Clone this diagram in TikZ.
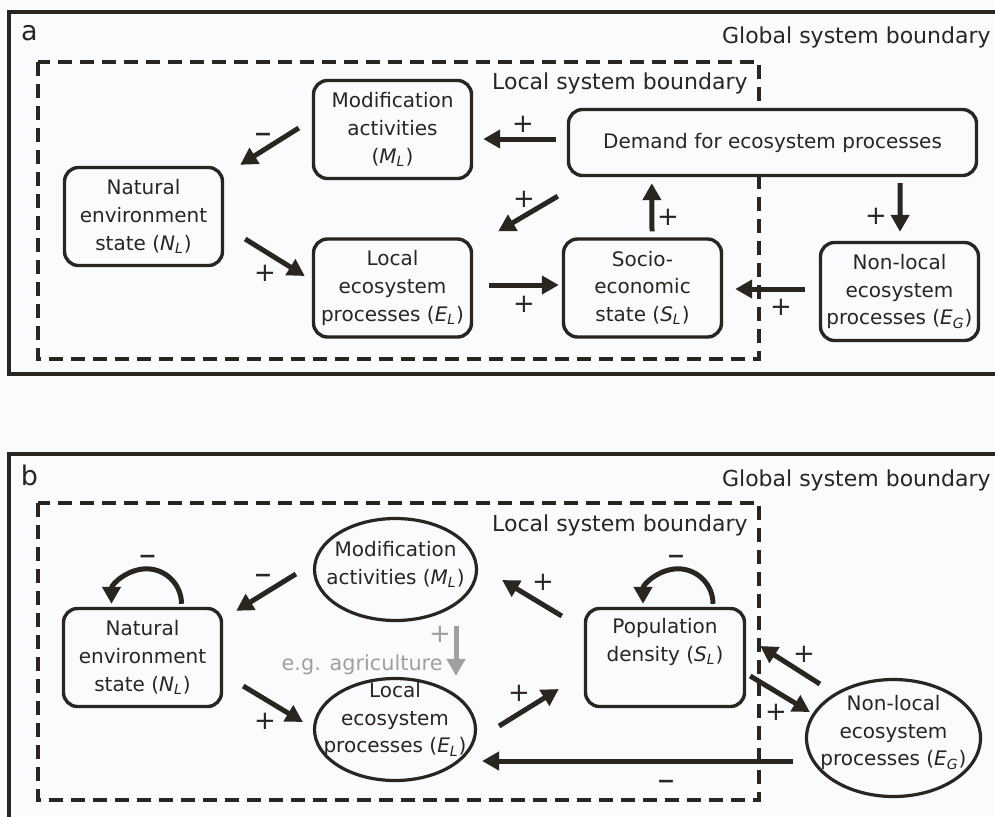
\documentclass[tikz,border=0pt]{standalone}
\usepackage{fontspec}
\setmainfont{DejaVu Sans}
\usepackage{xcolor}
\usepackage{tikz}
\usetikzlibrary{arrows.meta, shapes.geometric}

\definecolor{ink}{RGB}{42,37,31}
\definecolor{paper}{RGB}{250,251,253}
\definecolor{shade}{RGB}{160,160,160}

\newcommand{\vsub}[2]{\textit{#1}\textsubscript{\textit{#2}}}
\newcommand{\msign}{{\fontsize{11}{11}\selectfont\textbf{\char"2212}}}

\tikzset{
    box/.style={draw=ink, line width=1.7pt, rounded corners=7pt, fill=paper, text=ink,
        align=center, inner sep=1pt, minimum width=79pt, minimum height=49pt},
    oval/.style={ellipse, draw=ink, line width=1.6pt, fill=paper, text=ink,
        align=center, inner xsep=-20pt, inner ysep=-8pt},
    arr/.style={draw=ink, line width=2.5pt, -{Triangle[length=8.5pt, width=9pt]}},
    sign/.style={font=\fontsize{13}{13}\selectfont, text=ink, inner sep=0pt,
        text height=8pt, text depth=0pt},
    outerbd/.style={draw=ink, line width=2pt},
    localbd/.style={draw=ink, line width=1.8pt, dash pattern=on 7pt off 4pt},
    caption/.style={text=ink, inner sep=0pt, font=\fontsize{11}{13}\selectfont},
}

\begin{document}
\begin{tikzpicture}[x=0.5pt, y=-0.5pt, font=\fontsize{10}{13.8}\selectfont]
    \useasboundingbox (0,0) rectangle (995,816);
    \fill[paper] (0,0) rectangle (995,816);
    \clip (0,0) rectangle (995,816);

    % boundaries of both panels
    \draw[outerbd] (9,12) rectangle (1010,374);
    \draw[outerbd] (9,454) rectangle (1010,830);
    \draw[localbd] (38,62) rectangle (759,359);
    \draw[localbd] (38,503) rectangle (759,800);

    \node[caption, font=\fontsize{13.5}{14}\selectfont] (la) at (29.5,33.5) {a};
    \node[caption, font=\fontsize{13.5}{14}\selectfont] (lb) at (29.5,475) {b};
    \node[caption, anchor=base east] (ga) at (991,43) {Global system boundary};
    \node[caption, anchor=base east] (gb) at (991,486) {Global system boundary};
    \node[caption, anchor=base east] (loa) at (748,89) {Local system boundary};
    \node[caption, anchor=base east] (lob) at (748,531) {Local system boundary};

    % panel a
    \node[box] (Ma) at (392.5,129.5) {Modification\\activities\\(\vsub ML)};
    \node[box] (Na) at (143.5,216.5) {Natural\\environment\\state (\vsub NL)};
    \node[box] (Ea) at (392.5,288) {Local\\ecosystem\\processes (\vsub EL)};
    \node[box, minimum width=204pt, minimum height=33pt] (Da) at (772.5,142.5)
        {Demand for ecosystem processes};
    \node[box] (Sa) at (642.5,288) {Socio-\\economic\\state (\vsub SL)};
    \node[box] (Ga) at (899.5,291.5) {Non-local\\ecosystem\\processes (\vsub EG)};

    \draw[arr] ([shift={(-13,-1.5)}]Ma.west) -- ([shift={(16,-1)}]Na.north east);
    \draw[arr] ([shift={(21,22.5)}]Na.east) -- ([shift={(-7,-12)}]Ea.west);
    \draw[arr] ([shift={(-11,-3.5)}]Da.west) -- ([shift={(10,9.5)}]Ma.east);
    \draw[arr] ([shift={(-9,19)}]Da.south west) -- ([shift={(25,-6)}]Ea.north east);
    \draw[arr] ([shift={(16,-3)}]Ea.east) -- ([shift={(-3,-3)}]Sa.west);
    \draw[arr] ([shift={(9.5,-6)}]Sa.north) -- ([shift={(85,6)}]Da.south west);
    \draw[arr] ([shift={(-78,6)}]Da.south east) -- ([shift={(0.5,-9)}]Ga.north);
    \draw[arr] ([shift={(-14,-2.5)}]Ga.west) -- ([shift={(12,1)}]Sa.east);

    \foreach \x/\y/\s [count=\i] in {263/133.5/\msign, 265/273.5/+, 523/124/+, 524/199/+,
                                     524/304/+, 668/217/+, 876/216/+, 781/307/+} {
        \node[sign] (sa\i) at (\x,\y) {\s};
    }

    % panel b
    \node[box] (Nb) at (142.5,657.5) {Natural\\environment\\state (\vsub NL)};
    \node[oval, minimum width=81pt, minimum height=51pt] (Mb) at (395.5,569.5)
        {Modification\\activities (\vsub ML)\\[-7.4pt]\mbox{}};
    \node[oval, minimum width=80.5pt, minimum height=51pt] (Eb) at (395,729.5)
        {Local\\ecosystem\\processes (\vsub EL)\\[-1.9pt]\mbox{}};
    \node[box, minimum width=79.5pt] (Sb) at (665,657.5)
        {Population\\density (\vsub SL)\\[4pt]\mbox{}};
    \node[oval, minimum width=87pt, minimum height=58.5pt] (Gb) at (893.5,738)
        {Non-local\\ecosystem\\processes (\vsub EG)\\[-6.4pt]\mbox{}};

    \draw[arr] ([shift={(39,-3)}]Nb.north) arc[start angle=0, end angle=180, radius=17.5pt];
    \draw[arr] ([shift={(48,-3)}]Sb.north) arc[start angle=0, end angle=180, radius=17.5pt];
    \draw[arr] ([shift={(-17,4.5)}]Mb.west) -- ([shift={(13,4)}]Nb.north east);
    \draw[arr, draw=shade, -{Triangle[length=8.5pt, width=9pt, fill=shade]}]
        ([shift={(60.5,4)}]Mb.south) -- ([shift={(61,-1)}]Eb.north);
    \draw[arr] ([shift={(20,28.5)}]Nb.east) -- ([shift={(-10,-7.5)}]Eb.west);
    \draw[arr] ([shift={(22,-3.5)}]Eb.east) -- ([shift={(-25,31.5)}]Sb.west);
    \draw[arr] ([shift={(-22,-41.5)}]Sb.west) -- ([shift={(24,10.5)}]Mb.east);
    \draw[arr] ([shift={(15,-54)}]Gb.west) -- ([shift={(14,-11.5)}]Sb.east);
    \draw[arr] ([shift={(4,18.5)}]Sb.east) -- ([shift={(5,-26)}]Gb.west);
    \draw[arr] ([shift={(-12,23)}]Gb.west) -- ([shift={(5,31.5)}]Eb.east);

    \foreach \x/\y/\s [count=\i] in {147.5/555/\msign, 263/574/\msign, 265/721/+, 519/693/+,
                                     543/582/+, 676/555/\msign, 804/654/+, 776/712/+,
                                     666/780/\msign} {
        \node[sign] (sb\i) at (\x,\y) {\s};
    }
    \node[sign, text=shade] (sg) at (440,634) {+};
    \node[caption, text=shade, anchor=base east, font=\fontsize{10.4}{13}\selectfont] (eg)
        at (443,670) {e.g. agriculture};
\end{tikzpicture}
\end{document}
